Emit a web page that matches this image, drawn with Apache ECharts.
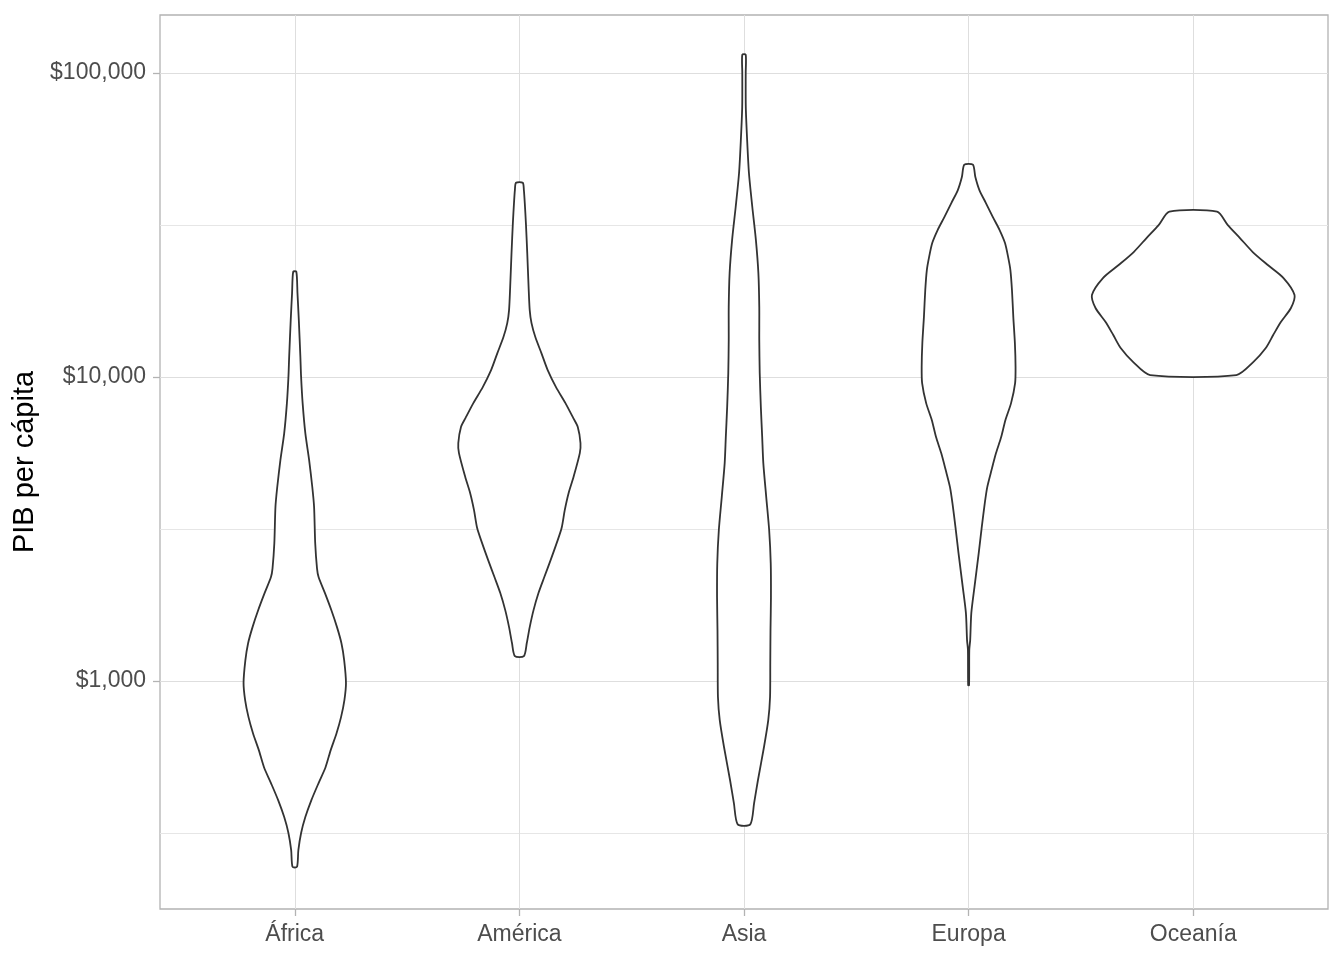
<!DOCTYPE html>
<html>
<head>
<meta charset="utf-8">
<script src="https://cdn.jsdelivr.net/npm/echarts@6/dist/echarts.min.js"></script>
<style>html,body{margin:0;padding:0;background:#fff}#c{width:1344px;height:960px}</style>
</head>
<body>
<div id="c"></div>
<script>
// ---- data ----
const categories = ['África', 'América', 'Asia', 'Europa', 'Oceanía'];
const yTickValues = [1000, 10000, 100000];
const yTickLabels = ['$1,000', '$10,000', '$100,000'];
const yMinorValues = [316.23, 3162.3, 31623];
const yRange = [178, 155200];
const yTitle = 'PIB per cápita';

// GDP per capita (top to bottom) and violin half-width (category units)
const africaGdp = [22200, 18900, 15400, 11630, 10080, 8210, 6540, 5330, 4350, 3740, 2840, 2350, 2200, 1950, 1710, 1505, 1330, 1170, 985, 866, 761, 674, 593, 521, 462, 406, 357, 316, 278, 245];
const africaWidth = [0.007, 0.012, 0.018, 0.025, 0.028, 0.035, 0.047, 0.064, 0.078, 0.086, 0.091, 0.099, 0.106, 0.134, 0.163, 0.188, 0.208, 0.220, 0.228, 0.221, 0.206, 0.186, 0.160, 0.137, 0.106, 0.074, 0.047, 0.028, 0.016, 0.010];

const americaGdp = [43570, 41220, 37360, 32110, 25580, 19780, 16610, 15050, 13540, 11990, 10540, 9270, 8210, 7330, 6850, 6066, 5620, 4690, 4150, 3650, 3187, 2843, 2500, 2199, 1948, 1712, 1505, 1334, 1208];
const americaWidth = [0.015, 0.020, 0.024, 0.029, 0.035, 0.041, 0.046, 0.054, 0.071, 0.098, 0.126, 0.163, 0.205, 0.240, 0.260, 0.272, 0.269, 0.241, 0.219, 0.202, 0.188, 0.166, 0.139, 0.111, 0.085, 0.063, 0.046, 0.033, 0.020];

const asiaGdp = [114900, 100000, 77300, 60200, 46900, 36250, 28220, 21990, 16990, 13240, 10310, 7963, 6347, 5213, 4030, 3139, 2444, 1889, 1472, 1146, 886, 744, 607, 472, 397, 338];
const asiaWidth = [0.0076, 0.0076, 0.008, 0.014, 0.022, 0.037, 0.053, 0.064, 0.068, 0.068, 0.070, 0.075, 0.081, 0.086, 0.099, 0.112, 0.119, 0.120, 0.118, 0.117, 0.116, 0.108, 0.089, 0.062, 0.045, 0.028];

const europeGdp = [49940, 45500, 41220, 37360, 33600, 30450, 27600, 24810, 22490, 19330, 15750, 12940, 10790, 9556, 8210, 7223, 6347, 5623, 4945, 4347, 3850, 3187, 2637, 2038, 1674, 1364, 1265, 970];
const europeWidth = [0.019, 0.030, 0.048, 0.077, 0.108, 0.138, 0.162, 0.176, 0.186, 0.193, 0.199, 0.206, 0.209, 0.207, 0.189, 0.164, 0.145, 0.122, 0.102, 0.083, 0.072, 0.058, 0.045, 0.026, 0.012, 0.007, 0.003, 0.002];

const oceaniaGdp = [34990, 31620, 28660, 25780, 23360, 21170, 18610, 16870, 15170, 13750, 12460, 11200, 10150];
const oceaniaWidth = [0.106, 0.154, 0.208, 0.265, 0.332, 0.402, 0.451, 0.435, 0.390, 0.356, 0.323, 0.267, 0.192];

const violinGdp = [africaGdp, americaGdp, asiaGdp, europeGdp, oceaniaGdp];
const violinWidth = [africaWidth, americaWidth, asiaWidth, europeWidth, oceaniaWidth];

// ---- chart ----
const FONT = '"Liberation Sans", Arial, sans-serif';
const lg = Math.log10;
const chart = echarts.init(document.getElementById('c'), null, {renderer: 'canvas'});

function violinSeries(idx) {
  return {
    type: 'custom',
    name: categories[idx],
    xAxisIndex: 0,
    yAxisIndex: 0,
    data: [[idx + 1, lg(violinGdp[idx][0])]],
    renderItem: function (params, api) {
      const g = violinGdp[idx], w = violinWidth[idx], c = idx + 1;
      const pts = [];
      for (let i = 0; i < g.length; i++) pts.push(api.coord([c + w[i], lg(g[i])]));
      for (let i = g.length - 1; i >= 0; i--) pts.push(api.coord([c - w[i], lg(g[i])]));
      return {
        type: 'polygon',
        shape: {points: pts, smooth: 0.25},
        style: {fill: '#ffffff', stroke: '#333333', lineWidth: 1.8}
      };
    }
  };
}

const yMin = lg(yRange[0]), yMax = lg(yRange[1]);

chart.setOption({
  animation: false,
  backgroundColor: '#ffffff',
  textStyle: {fontFamily: FONT},
  grid: {left: 160, right: 16, top: 15, bottom: 51, show: true, borderColor: '#b3b3b3', borderWidth: 1.3, backgroundColor: 'transparent'},
  xAxis: {
    type: 'value', min: 0.4, max: 5.6,
    axisLine: {show: false},
    axisTick: {show: true, length: 7, customValues: [1, 2, 3, 4, 5], lineStyle: {color: '#b3b3b3', width: 1.3}},
    axisLabel: {customValues: [1, 2, 3, 4, 5], formatter: v => categories[Math.round(v) - 1], color: '#4d4d4d', fontSize: 23, fontFamily: FONT, margin: 14},
    splitLine: {show: true, lineStyle: {color: '#dedede', width: 1}}
  },
  yAxis: [{
    type: 'value', min: yMin, max: yMax,
    axisLine: {show: false},
    axisTick: {show: true, length: 7, customValues: yTickValues.map(lg), lineStyle: {color: '#b3b3b3', width: 1.3}},
    axisLabel: {customValues: yTickValues.map(lg), formatter: v => yTickLabels[Math.round(v) - 3], color: '#4d4d4d', fontSize: 23, fontFamily: FONT, margin: 14, padding: [8, 0, 0, 0]},
    splitLine: {show: true, lineStyle: {color: '#dedede', width: 1}},
    name: yTitle, nameLocation: 'middle', nameRotate: 90, nameGap: 109,
    nameTextStyle: {fontSize: 29, color: '#000000', fontFamily: FONT}
  }, {
    type: 'value', min: yMin, max: yMax, position: 'left',
    axisLine: {show: false},
    axisTick: {show: true, length: 0, customValues: yMinorValues.map(lg)},
    axisLabel: {show: false},
    splitLine: {show: true, lineStyle: {color: '#e6e6e6', width: 1}}
  }],
  series: [0, 1, 2, 3, 4].map(violinSeries)
});
</script>
</body>
</html>
